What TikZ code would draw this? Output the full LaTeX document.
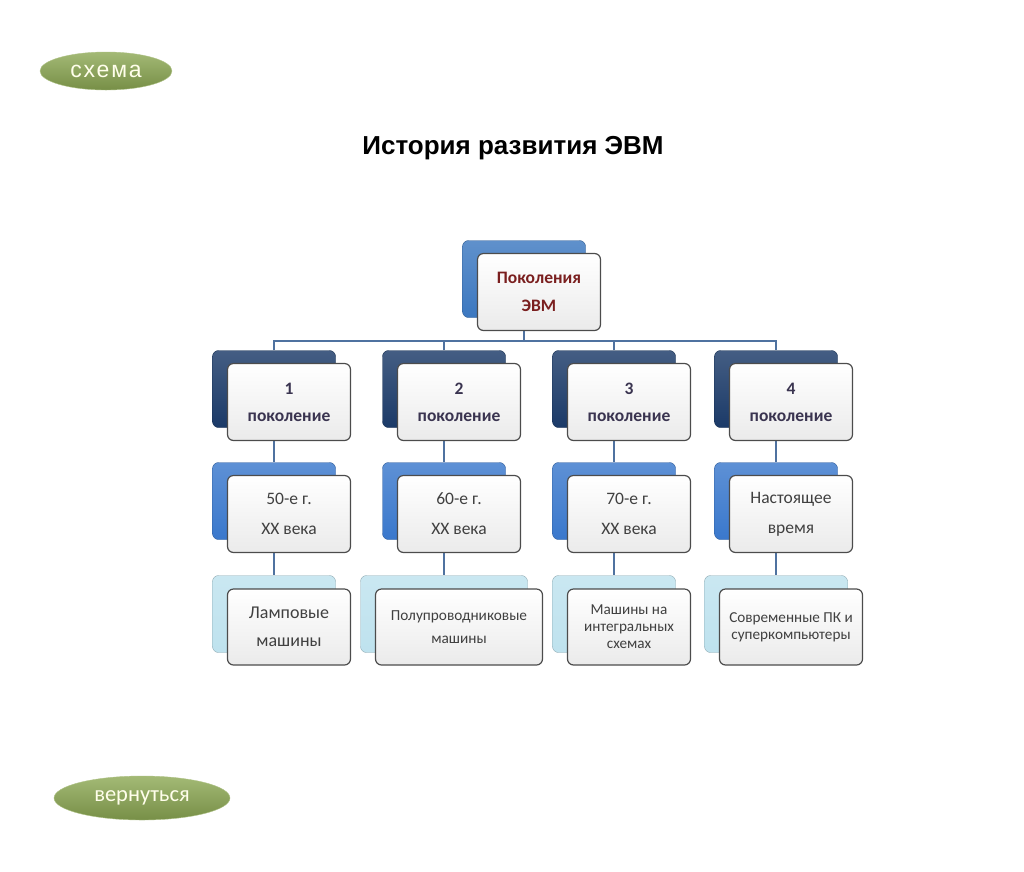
\documentclass[tikz,border=0pt]{standalone}
\usepackage{fontspec}
\setmainfont{Carlito}
\newfontfamily\arialfont{Liberation Sans}
\newfontfamily\widefont[LetterSpace=8]{Liberation Sans}
\usetikzlibrary{calc,shapes.geometric,backgrounds}

\definecolor{topblue}{HTML}{3C78C0}
\definecolor{navyblue}{HTML}{1B3A68}
\definecolor{midblue}{HTML}{3A78CC}
\definecolor{paleblue}{HTML}{BEE2EE}
\definecolor{darkred}{HTML}{7A1F1F}
\definecolor{genink}{HTML}{3A3450}
\definecolor{textgray}{HTML}{404040}
\definecolor{linkblue}{HTML}{4F72A0}
\definecolor{olivegreen}{HTML}{8CA853}

\tikzset{
  backbox/.style={draw=#1!75!black, top color=#1!82!white, bottom color=#1,
    rounded corners=6pt, minimum width=123pt, minimum height=77pt, inner sep=0pt},
  frontbox/.style={draw=black!70, line width=1.2pt, top color=white, bottom color=black!8,
    rounded corners=6pt, minimum width=123pt, minimum height=77pt, inner sep=2pt, align=center},
  conn/.style={draw=linkblue, line width=1.6pt},
  button/.style={ellipse, inner sep=0pt, top color=olivegreen!80!white, bottom color=olivegreen!85!black,
    draw=olivegreen!70!white, text=white!92!yellow}
}

\begin{document}
\begin{tikzpicture}[x=1pt,y=-1pt]
  \useasboundingbox (0,0) rectangle (1024,871);

  % buttons and title
  \node[button, minimum width=132pt, minimum height=38pt, font=\widefont\fontsize{23}{23}\selectfont]
    (scheme) at (106,71) {схема};
  \node[button, minimum width=176pt, minimum height=44pt, font=\fontsize{22.5}{22.5}\selectfont]
    (back) at (142,798) {вернуться};
  \node[font=\arialfont\bfseries\fontsize{26}{26}\selectfont] (title) at (513,148) {История развития ЭВМ};

  % top box
  \node[backbox=topblue] (headb) at (524,279) {};
  \node[frontbox, text=darkred, font=\bfseries\fontsize{17.5}{28}\selectfont]
    (head) at ($(headb)+(15,13)$) {Поколения\\ЭВМ};

  % generations
  \foreach \i/\x in {1/274,2/444,3/614,4/776} {
    \node[backbox=navyblue] (genb\i) at (\x,389) {};
    \node[frontbox, text=genink, font=\bfseries\fontsize{17.5}{27}\selectfont]
      (gen\i) at ($(genb\i)+(15,13)$) {\i\\поколение};
  }

  % years
  \foreach \i/\x/\t in {1/274/{50-е г.\\XX века},2/444/{60-е г.\\XX века},
                        3/614/{70-е г.\\XX века},4/776/{Настоящее\\время}} {
    \node[backbox=midblue] (dateb\i) at (\x,501) {};
    \node[frontbox, text=textgray, font=\fontsize{17.5}{30}\selectfont]
      (date\i) at ($(dateb\i)+(15,13)$) {\t};
  }

  % machines
  \foreach \i/\x/\w/\s/\l/\t in {1/274/123/18/28/{Ламповые\\машины},
                                 2/444/167/15.3/23/{Полупроводниковые\\машины},
                                 3/614/123/15.2/17/{Машины на\\интегральных\\схемах},
                                 4/776/143/15.2/17/{Современные ПК и\\суперкомпьютеры}} {
    \node[backbox=paleblue, minimum width=\w pt] (kindb\i) at (\x,614) {};
    \node[frontbox, text=textgray, minimum width=\w pt, minimum height=76pt, font=\fontsize{\s}{\l}\selectfont]
      (kind\i) at ($(kindb\i)+(15,13)$) {\t};
  }

  % connectors
  \begin{pgfonlayer}{background}
    \coordinate (bus) at (524,341);
    \draw[conn] (headb.south) -- (bus);
    \draw[conn] (genb1.north) |- (bus) -| (genb4.north);
    \draw[conn] (genb2.north) -- (genb2.north |- bus);
    \draw[conn] (genb3.north) -- (genb3.north |- bus);
    \foreach \i in {1,...,4} {
      \draw[conn] (genb\i) -- (dateb\i);
      \draw[conn] (dateb\i) -- (kindb\i);
    }
  \end{pgfonlayer}
\end{tikzpicture}
\end{document}
